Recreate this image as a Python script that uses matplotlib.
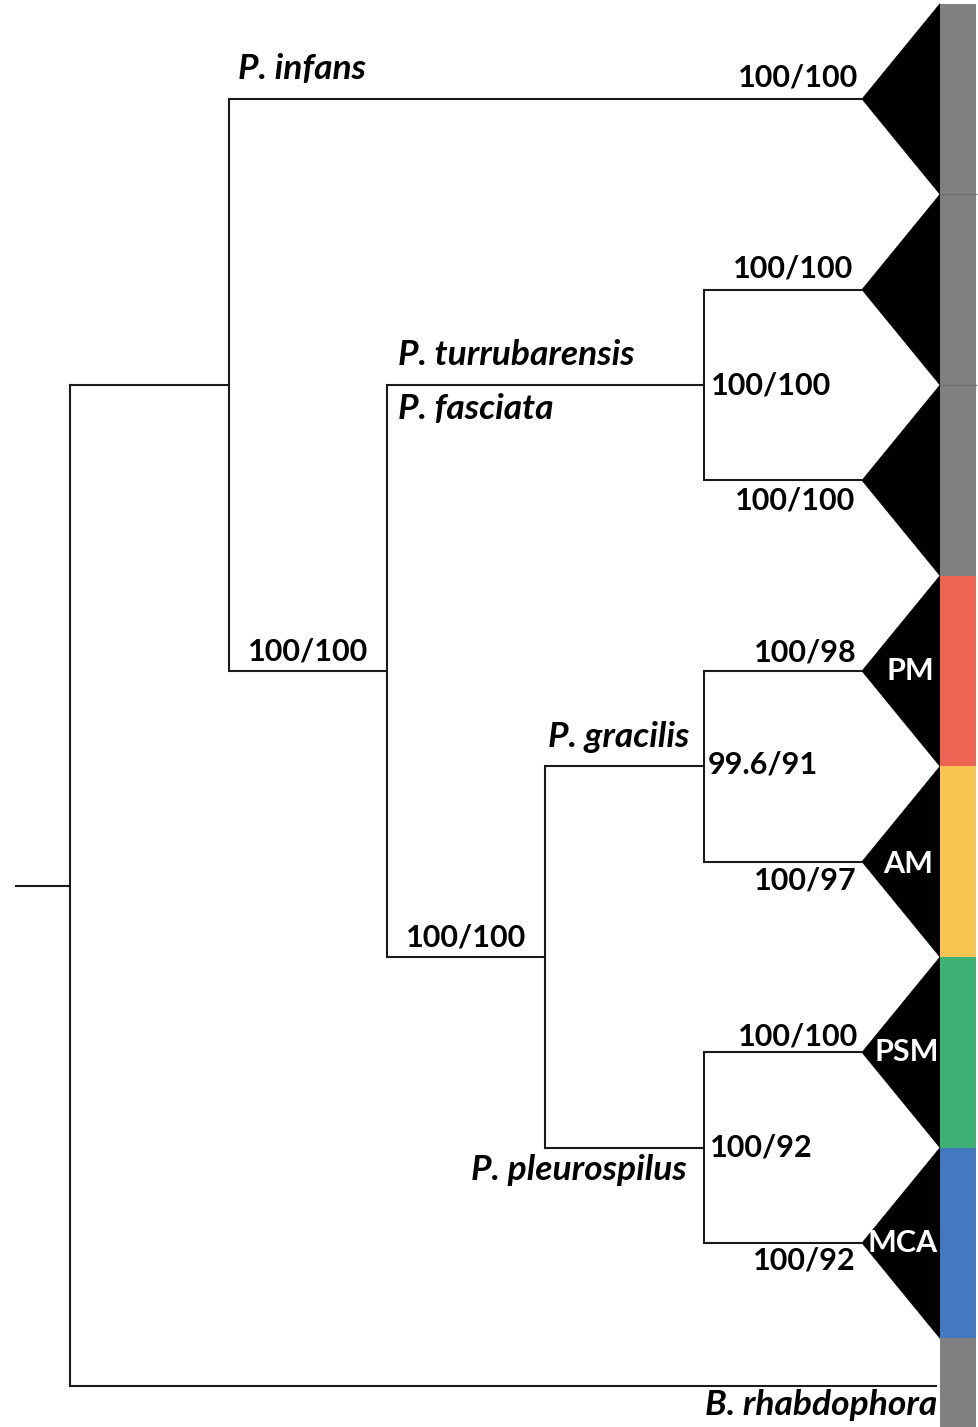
import matplotlib
matplotlib.use("Agg")
import matplotlib.pyplot as plt
from matplotlib.patches import Polygon, Rectangle

# ---------------- data ----------------
clade_names = ["P. infans", "P. turrubarensis", "P. fasciata", "PM", "AM", "PSM", "MCA"]
clade_rows = [0, 1, 2, 3, 4, 5, 6]
clade_support = ["100/100", "100/100", "100/100", "100/98", "100/97", "100/100", "100/92"]
clade_colors = ["#808080", "#808080", "#808080", "#EE6352", "#F7C550", "#3CB173", "#4279BF"]
outgroup_name = "B. rhabdophora"
outgroup_row = 6.75

# internal nodes: name -> (depth, children)
node_depth = {"root": 0, "ingroup": 159, "rest": 317, "tf": 634, "gp": 475, "g": 634, "p": 634}
node_children = {
    "root": ["ingroup", "OUT"],
    "ingroup": ["C0", "rest"],
    "rest": ["tf", "gp"],
    "tf": ["C1", "C2"],
    "gp": ["g", "p"],
    "g": ["C3", "C4"],
    "p": ["C5", "C6"],
}
node_support = {"tf": "100/100", "rest": "100/100", "gp": "100/100", "g": "99.6/91", "p": "100/92"}
tip_depth = 792
outgroup_depth = 867
triangle_base = 870
bar_end = 906
root_stub = -55

# ---------------- layout helpers ----------------
def row_of(n):
    if n == "OUT":
        return outgroup_row
    if n.startswith("C"):
        return clade_rows[int(n[1:])]
    ch = node_children[n]
    return (row_of(ch[0]) + row_of(ch[1])) / 2.0

def depth_of(n):
    if n == "OUT":
        return outgroup_depth
    if n.startswith("C"):
        return tip_depth
    return node_depth[n]

W, H = 979, 1427
fig = plt.figure(figsize=(W / 100, H / 100), dpi=100)
ax = fig.add_axes([0, 0, 1, 1])
ax.set_xlim(-70, 909)
row_px = 190.67
ax.set_ylim((H - 99) / row_px, -99 / row_px)
ax.axis("off")

lc = "#1a1a1a"
lw = 1.5
FONT = "Lato"

# branches
ax.plot([root_stub, 0], [row_of("root")] * 2, color=lc, lw=lw, solid_capstyle="butt")
for n, ch in node_children.items():
    x = depth_of(n)
    ys = [row_of(c) for c in ch]
    ax.plot([x, x], [min(ys), max(ys)], color=lc, lw=lw, solid_capstyle="projecting")
    for c in ch:
        ax.plot([x, depth_of(c)], [row_of(c)] * 2, color=lc, lw=lw, solid_capstyle="butt")

# triangles and color bar
for i, r in enumerate(clade_rows):
    tri = Polygon([[tip_depth, r], [triangle_base, r - 0.5], [triangle_base, r + 0.5]],
                  closed=True, facecolor="black", edgecolor="black", lw=0.5)
    ax.add_patch(tri)
    ax.add_patch(Rectangle((triangle_base, r - 0.5), bar_end - triangle_base, 1.0,
                           facecolor=clade_colors[i], edgecolor="none"))
    if 0 < i < 3:
        ax.plot([triangle_base, bar_end], [r - 0.5] * 2, color="#6a6a6a", lw=0.8)
ax.add_patch(Rectangle((triangle_base, clade_rows[-1] + 0.5), bar_end - triangle_base, 2.0,
                       facecolor="#808080", edgecolor="none"))


def label(x, y, text, dx, dy, ha, size=22, style="normal", color="black"):
    ax.annotate(text, (x, y), xytext=(dx, dy), textcoords="offset pixels",
                ha=ha, va="center", fontsize=size, fontweight="bold",
                fontstyle=style, color=color, family=FONT)

SP = 25.5   # species label size

# clade support labels (offset px: dx, dy-up-negative)
sup_off = [(-4, -21), (-9, -21), (-7, 20), (-5, -19), (-5, 19), (-4, -16), (-6, 17)]
for i, r in enumerate(clade_rows):
    dx, dy = sup_off[i]
    label(tip_depth, r, clade_support[i], dx, -dy, "right")

# clade labels in triangles
clade_lbl = {3: (48, 0), 4: (46, 2), 5: (45, 0), 6: (41, 0)}
for i, (dx, dy) in clade_lbl.items():
    label(tip_depth, clade_rows[i], clade_names[i], dx, -dy, "center", size=22, color="white")

# node supports
label(depth_of("tf"), row_of("tf"), node_support["tf"], 7, 0, "left")
label(depth_of("g"), row_of("g"), node_support["g"], 4, 2, "left")
label(depth_of("p"), row_of("p"), node_support["p"], 6, 0, "left")
for n, parent in [("rest", "ingroup"), ("gp", "rest")]:
    xm = (depth_of(n) + depth_of(parent)) / 2
    label(xm, row_of(n), node_support[n], 0, 20, "center")

# species labels
label(depth_of("ingroup"), row_of("C0"), "P. infans", 9, 30, "left", size=SP, style="italic")
label(depth_of("rest"), row_of("tf"), "P. turrubarensis", 11, 30, "left", size=SP, style="italic")
label(depth_of("rest"), row_of("tf"), "P. fasciata", 11, -24, "left", size=SP, style="italic")
label(depth_of("g"), row_of("g"), "P. gracilis", -15, 29, "right", size=SP, style="italic")
label(depth_of("p"), row_of("p"), "P. pleurospilus", -17, -22, "right", size=SP, style="italic")
label(outgroup_depth, outgroup_row, outgroup_name, 0, -19, "right", size=SP, style="italic")

fig.savefig("out.png", dpi=100, facecolor="white")
